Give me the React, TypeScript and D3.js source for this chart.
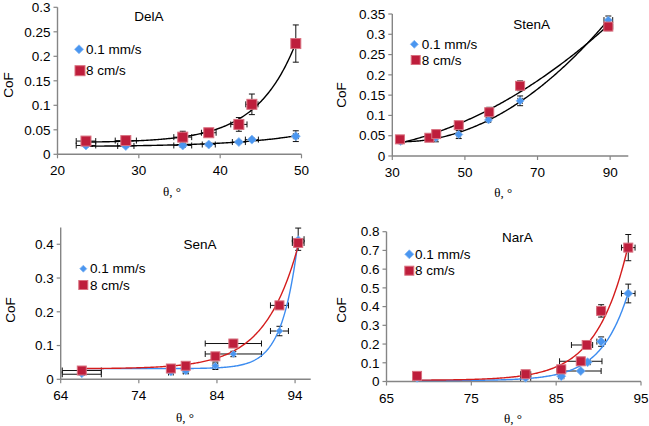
import React from 'react';
import * as d3 from 'd3';

// ---------- DATA ----------
// DelA
const delThetaSlow = [23.5, 28.4, 35.4, 38.6, 42.3, 43.9, 49.3];
const delCoFSlow = [0.018, 0.017, 0.018, 0.02, 0.025, 0.03, 0.037];
const delYErrSlow = [0.003, 0.003, 0.004, 0.003, 0.003, 0.003, 0.011];
const delXErrSlow = [1.2, 1.0, 1.1, 0.8, 0.8, 0.8, 0.3];
const delThetaFast = [23.5, 28.4, 35.4, 38.6, 42.3, 43.9, 49.3];
const delCoFFast = [0.027, 0.028, 0.035, 0.044, 0.061, 0.102, 0.226];
const delYErrFast = [0.004, 0.004, 0.012, 0.006, 0.014, 0.021, 0.038];
const delXErrFast = [1.2, 1.3, 1.1, 0.9, 1.0, 0.75, 0.3];

// StenA
const stenThetaSlow = [32.3, 42.0, 48.3, 56.5, 65.2, 89.5];
const stenCoFSlow = [0.036, 0.045, 0.053, 0.089, 0.136, 0.335];
const stenYErrSlow = [0.004, 0.01, 0.01, 0.005, 0.012, 0.01];
const stenXErrSlow = [0.4, 0.5, 0.5, 0.5, 0.6, 1.2];
const stenThetaFast = [32.1, 40.2, 42.1, 48.3, 56.7, 65.2, 89.5];
const stenCoFFast = [0.041, 0.045, 0.054, 0.076, 0.108, 0.173, 0.319];
const stenYErrFast = [0.004, 0.004, 0.005, 0.006, 0.012, 0.012, 0.01];
const stenXErrFast = [0.4, 0.4, 0.5, 0.5, 0.5, 0.6, 1.2];

// SenA
const senThetaSlow = [66.7, 78.1, 80.0, 83.8, 86.1, 92.0, 94.4];
const senCoFSlow = [0.015, 0.02, 0.023, 0.04, 0.075, 0.143, 0.415];
const senYErrSlow = [0.003, 0.003, 0.005, 0.011, 0.008, 0.014, 0.033];
const senXErrSlow = [2.5, 0.3, 0.3, 0.3, 3.6, 1.15, 0.75];
const senThetaFast = [66.7, 78.1, 80.0, 83.8, 86.1, 92.0, 94.4];
const senCoFFast = [0.026, 0.032, 0.04, 0.068, 0.106, 0.219, 0.404];
const senYErrFast = [0.003, 0.003, 0.003, 0.005, 0.012, 0.006, 0.01];
const senXErrFast = [2.5, 0.3, 0.3, 0.3, 3.6, 1.15, 0.75];

// NarA
const narThetaSlow = [68.6, 81.4, 85.6, 87.9, 88.7, 90.3, 93.5];
const narCoFSlow = [0.02, 0.02, 0.028, 0.056, 0.103, 0.213, 0.47];
const narYErrSlow = [0.003, 0.003, 0.005, 0.005, 0.008, 0.025, 0.05];
const narXErrLoSlow = [0.3, 0.6, 0.3, 2.4, 0.3, 0.5, 0.8];
const narXErrHiSlow = [0.3, 0.6, 0.3, 2.4, 0.3, 0.5, 0.8];
const narThetaFast = [68.6, 81.4, 85.6, 87.9, 88.6, 90.3, 93.5];
const narCoFFast = [0.03, 0.039, 0.065, 0.108, 0.195, 0.377, 0.715];
const narYErrFast = [0.005, 0.005, 0.01, 0.01, 0.012, 0.033, 0.07];
const narXErrLoFast = [0.3, 0.6, 0.5, 2.5, 1.8, 0.5, 0.8];
const narXErrHiFast = [0.3, 0.6, 0.5, 2.5, 0.7, 0.5, 0.8];

const legendSlow = '0.1 mm/s';
const legendFast = '8 cm/s';
const yTitle = 'CoF';
const xTitle = 'θ, °';

const delXTicks = [20, 30, 40, 50];
const delYTicks = [0, 0.05, 0.1, 0.15, 0.2, 0.25, 0.3];
const stenXTicks = [30, 50, 70, 90];
const stenYTicks = [0, 0.05, 0.1, 0.15, 0.2, 0.25, 0.3, 0.35];
const senXTicks = [64, 74, 84, 94];
const senYTicks = [0, 0.1, 0.2, 0.3, 0.4];
const narXTicks = [65, 75, 85, 95];
const narYTicks = [0, 0.1, 0.2, 0.3, 0.4, 0.5, 0.6, 0.7, 0.8];

// ---------- fitting helpers (least squares on the data above) ----------
function polyFit(xs: number[], ys: number[], deg: number) {
  const mx = d3.mean(xs) as number;
  const sx = (d3.deviation(xs) as number) || 1;
  const n = deg + 1;
  const A: number[][] = Array.from({ length: n }, () => new Array(n + 1).fill(0));
  xs.forEach((x, i) => {
    const t = (x - mx) / sx;
    const p = Array.from({ length: n }, (_, k) => Math.pow(t, k));
    for (let j = 0; j < n; j++) {
      for (let k = 0; k < n; k++) A[j][k] += p[j] * p[k];
      A[j][n] += p[j] * ys[i];
    }
  });
  for (let c = 0; c < n; c++) {
    let piv = c;
    for (let r = c + 1; r < n; r++) if (Math.abs(A[r][c]) > Math.abs(A[piv][c])) piv = r;
    [A[c], A[piv]] = [A[piv], A[c]];
    for (let r = 0; r < n; r++) {
      if (r === c) continue;
      const f = A[r][c] / A[c][c];
      for (let k = c; k <= n; k++) A[r][k] -= f * A[c][k];
    }
  }
  const coef = A.map((row, i) => row[n] / row[i]);
  return (x: number) => {
    const t = (x - mx) / sx;
    return coef.reduce((s, c, k) => s + c * Math.pow(t, k), 0);
  };
}

// y = a + b * exp(c * (x - xmax)), c by grid search, a and b by linear least squares
function expOffsetFit(xs: number[], ys: number[]) {
  const xm = d3.max(xs) as number;
  let best = { sse: Infinity, a: 0, b: 0, c: 0.1 };
  for (let k = 0; k <= 600; k++) {
    const c = 0.005 * Math.pow(10, (k / 600) * 3);
    const u = xs.map((x) => Math.exp(c * (x - xm)));
    const n = xs.length;
    const su = d3.sum(u), sy = d3.sum(ys);
    const suu = d3.sum(u, (v) => v * v);
    const suy = d3.sum(u.map((v, i) => v * ys[i]));
    const det = n * suu - su * su;
    if (Math.abs(det) < 1e-12) continue;
    const b = (n * suy - su * sy) / det;
    const a = (sy - b * su) / n;
    const sse = d3.sum(u.map((v, i) => (a + b * v - ys[i]) ** 2));
    if (sse < best.sse) best = { sse, a, b, c };
  }
  return (x: number) => best.a + best.b * Math.exp(best.c * (x - xm));
}

const RED = '#BE1E3C';
const RED_EDGE = '#D9707F';
const BLUE = '#4A96F0';
const BLUE_EDGE = '#86B8F2';
const AXIS = '#858585';
const SANS = 'Arial, "Liberation Sans", Helvetica, sans-serif';
const SERIF = '"Times New Roman", "Liberation Serif", serif';
const FS = 13.5;

type Series = {
  x: number[]; y: number[]; yErr: number[]; xLo: number[]; xHi: number[];
  kind: 'diamond' | 'square'; model: 'exp' | 'poly2'; trend: string;
};

type PanelCfg = {
  title: string; left: number; right: number; bottom: number; top: number;
  xDom: [number, number]; yDom: [number, number]; xTicks: number[]; yTicks: number[];
  titlePos: [number, number]; yLabPos: [number, number]; xLabPos: [number, number];
  legDia: [number, number]; legSq: [number, number]; legTextX: number;
  sq: number; dia: number; slow: Series; fast: Series;
};

function Marker({ kind, cx, cy, size, color }: any) {
  if (kind === 'square') {
    const s = size - 1;
    return <rect x={cx - s / 2} y={cy - s / 2} width={s} height={s} fill={color} stroke={RED_EDGE} strokeWidth={1} />;
  }
  const h = size / 2 - 0.5;
  return <path d={`M${cx},${cy - h}L${cx + h},${cy}L${cx},${cy + h}L${cx - h},${cy}Z`} fill={color} stroke={BLUE_EDGE} strokeWidth={0.8} />;
}

function Panel({ cfg }: { cfg: PanelCfg }) {
  const xs = d3.scaleLinear().domain(cfg.xDom).range([cfg.left, cfg.right]);
  const ys = d3.scaleLinear().domain(cfg.yDom).range([cfg.bottom, cfg.top]);
  const fmt = (v: number) => String(+v.toFixed(2));
  const series = [cfg.slow, cfg.fast];
  const cap = 3;
  return (
    <g>
      <line x1={cfg.left} x2={cfg.left} y1={cfg.top} y2={cfg.bottom} stroke={AXIS} strokeWidth={1.4} />
      <line x1={cfg.left} x2={cfg.right} y1={cfg.bottom} y2={cfg.bottom} stroke={AXIS} strokeWidth={1.4} />
      {cfg.yTicks.map((t) => (
        <g key={'y' + t}>
          <line x1={cfg.left - 4} x2={cfg.left} y1={ys(t)} y2={ys(t)} stroke={AXIS} strokeWidth={1.2} />
          <text x={cfg.left - 7} y={ys(t)} dy="0.35em" textAnchor="end" fontSize={FS} fontFamily={SANS} fill="#000">
            {fmt(t)}
          </text>
        </g>
      ))}
      {cfg.xTicks.map((t) => (
        <g key={'x' + t}>
          <line x1={xs(t)} x2={xs(t)} y1={cfg.bottom} y2={cfg.bottom + 4} stroke={AXIS} strokeWidth={1.2} />
          <text x={xs(t)} y={cfg.bottom + 21} textAnchor="middle" fontSize={FS} fontFamily={SANS} fill="#000">
            {fmt(t)}
          </text>
        </g>
      ))}
      {/* error bars */}
      {series.map((s, si) =>
        s.x.map((xv, i) => {
          const cx = xs(xv), cy = ys(s.y[i]);
          const yt = ys(s.y[i] + s.yErr[i]), yb = ys(s.y[i] - s.yErr[i]);
          const xl = xs(xv - s.xLo[i]), xr = xs(xv + s.xHi[i]);
          return (
            <g key={'e' + si + '-' + i} stroke="#111" strokeWidth={1}>
              <line x1={cx} x2={cx} y1={yt} y2={yb} />
              <line x1={cx - cap} x2={cx + cap} y1={yt} y2={yt} />
              <line x1={cx - cap} x2={cx + cap} y1={yb} y2={yb} />
              <line x1={xl} x2={xr} y1={cy} y2={cy} />
              <line x1={xl} x2={xl} y1={cy - cap} y2={cy + cap} />
              <line x1={xr} x2={xr} y1={cy - cap} y2={cy + cap} />
            </g>
          );
        })
      )}
      {/* trend lines */}
      {series.map((s, si) => {
        const f = s.model === 'exp' ? expOffsetFit(s.x, s.y) : polyFit(s.x, s.y, 2);
        const [a, b] = d3.extent(s.x) as [number, number];
        const pts = d3.range(0, 201).map((k) => a + ((b - a) * k) / 200);
        const line = d3.line<number>().x((v) => xs(v)).y((v) => ys(f(v)));
        return <path key={'t' + si} d={line(pts) || ''} fill="none" stroke={s.trend} strokeWidth={1.4} />;
      })}
      {/* markers */}
      {series.map((s, si) =>
        s.x.map((xv, i) => (
          <Marker key={si + '-' + i} kind={s.kind} cx={xs(xv)} cy={ys(s.y[i])}
            size={s.kind === 'square' ? cfg.sq : cfg.dia} color={s.kind === 'square' ? RED : BLUE} />
        ))
      )}
      <text x={cfg.titlePos[0]} y={cfg.titlePos[1]} dy="0.35em" textAnchor="middle" fontSize={FS} fontFamily={SANS}>
        {cfg.title}
      </text>
      <text transform={`translate(${cfg.yLabPos[0]},${cfg.yLabPos[1]}) rotate(-90)`} dy="0.35em" textAnchor="middle"
        fontSize={FS} fontFamily={SANS}>
        {yTitle}
      </text>
      <text x={cfg.xLabPos[0]} y={cfg.xLabPos[1]} dy="0.35em" textAnchor="middle" fontSize={13} fontFamily={SERIF}>
        {xTitle}
      </text>
      <Marker kind="diamond" cx={cfg.legDia[0]} cy={cfg.legDia[1]} size={cfg.dia} color={BLUE} />
      <text x={cfg.legTextX} y={cfg.legDia[1]} dy="0.35em" fontSize={FS} fontFamily={SANS}>{legendSlow}</text>
      <Marker kind="square" cx={cfg.legSq[0]} cy={cfg.legSq[1]} size={cfg.sq} color={RED} />
      <text x={cfg.legTextX} y={cfg.legSq[1]} dy="0.35em" fontSize={FS} fontFamily={SANS}>{legendFast}</text>
    </g>
  );
}

const panels: PanelCfg[] = [
  {
    title: 'DelA', left: 57.5, right: 301.5, bottom: 154.3, top: 7.3, xDom: [20, 50], yDom: [0, 0.3],
    xTicks: delXTicks, yTicks: delYTicks, titlePos: [149, 16], yLabPos: [8, 85], xLabPos: [172, 191],
    legDia: [79, 49.3], legSq: [80, 70.7], legTextX: 86, sq: 11, dia: 10,
    slow: { x: delThetaSlow, y: delCoFSlow, yErr: delYErrSlow, xLo: delXErrSlow, xHi: delXErrSlow, kind: 'diamond', model: 'exp', trend: '#000' },
    fast: { x: delThetaFast, y: delCoFFast, yErr: delYErrFast, xLo: delXErrFast, xHi: delXErrFast, kind: 'square', model: 'exp', trend: '#000' },
  },
  {
    title: 'StenA', left: 392.3, right: 628.3, bottom: 156, top: 14, xDom: [30, 95], yDom: [0, 0.35],
    xTicks: stenXTicks, yTicks: stenYTicks, titlePos: [531.7, 24], yLabPos: [341.7, 95], xLabPos: [503.3, 192],
    legDia: [414.3, 44.3], legSq: [415.7, 60], legTextX: 421.7, sq: 10, dia: 9,
    slow: { x: stenThetaSlow, y: stenCoFSlow, yErr: stenYErrSlow, xLo: stenXErrSlow, xHi: stenXErrSlow, kind: 'diamond', model: 'poly2', trend: '#000' },
    fast: { x: stenThetaFast, y: stenCoFFast, yErr: stenYErrFast, xLo: stenXErrFast, xHi: stenXErrFast, kind: 'square', model: 'poly2', trend: '#000' },
  },
  {
    title: 'SenA', left: 60.7, right: 310.7, bottom: 379.3, top: 227.4, xDom: [64, 96], yDom: [0, 0.45],
    xTicks: senXTicks, yTicks: senYTicks, titlePos: [200, 244.3], yLabPos: [10, 310], xLabPos: [185, 417.3],
    legDia: [83.3, 268.7], legSq: [83.3, 285], legTextX: 90, sq: 10, dia: 8,
    slow: { x: senThetaSlow, y: senCoFSlow, yErr: senYErrSlow, xLo: senXErrSlow, xHi: senXErrSlow, kind: 'diamond', model: 'exp', trend: '#3C8CF0' },
    fast: { x: senThetaFast, y: senCoFFast, yErr: senYErrFast, xLo: senXErrFast, xHi: senXErrFast, kind: 'square', model: 'exp', trend: '#D41C1C' },
  },
  {
    title: 'NarA', left: 386.5, right: 641, bottom: 381.5, top: 231.7, xDom: [65, 95], yDom: [0, 0.8],
    xTicks: narXTicks, yTicks: narYTicks, titlePos: [517.3, 237.3], yLabPos: [341.7, 310], xLabPos: [513, 418.3],
    legDia: [409.3, 254.3], legSq: [409.3, 270.7], legTextX: 415, sq: 10, dia: 10,
    slow: { x: narThetaSlow, y: narCoFSlow, yErr: narYErrSlow, xLo: narXErrLoSlow, xHi: narXErrHiSlow, kind: 'diamond', model: 'exp', trend: '#3C8CF0' },
    fast: { x: narThetaFast, y: narCoFFast, yErr: narYErrFast, xLo: narXErrLoFast, xHi: narXErrHiFast, kind: 'square', model: 'exp', trend: '#D41C1C' },
  },
];

export default function App() {
  return (
    <svg width={649} height={426} style={{ position: 'absolute', left: 0, top: 0, background: '#fff' }}>
      <rect width={649} height={426} fill="#fff" />
      {panels.map((p) => (
        <Panel key={p.title} cfg={p} />
      ))}
    </svg>
  );
}
